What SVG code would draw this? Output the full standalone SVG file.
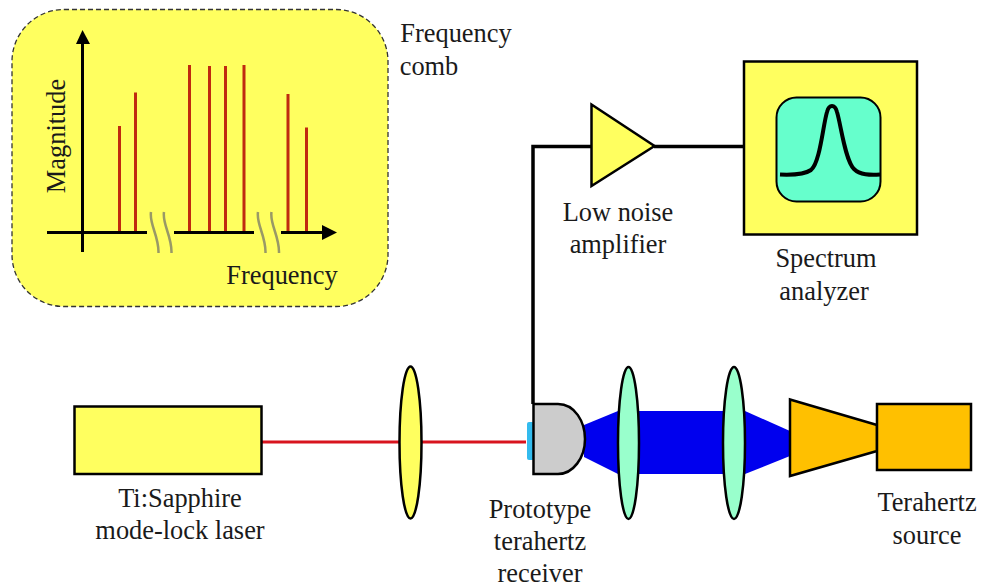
<svg xmlns="http://www.w3.org/2000/svg" width="981" height="588" viewBox="0 0 981 588">
<style>
text{font-family:"Liberation Serif","Times New Roman",serif;font-size:26.400px;fill:#1a1a1a;text-anchor:middle}
.o{stroke:#000;stroke-width:2.500}
.r{stroke:#c02a10;stroke-width:3;fill:none}
.a{stroke:#000;stroke-width:3;fill:none}
.w{stroke:#999966;stroke-width:2.500;fill:none}
</style>
<rect width="981" height="588" fill="#fff"/>
<g id="comb">
<rect x="12" y="9.500" width="376" height="297" rx="52" fill="#ffff5f" stroke="#333" stroke-width="1.300" stroke-dasharray="5 3"/>
<path class="a" d="M82.500 40V252"/>
<path d="M76 44L82.500 30L90 44Z"/>
<path class="a" d="M47 232.500H147M174 232.500H254M281 232.500H325"/>
<path d="M322 225L337 232.500L322 240Z"/>
<path class="r" d="M119.500 126V231M135.500 92.500V231M189.500 65V231M209.500 66V231M225.500 66V231M244 65V231M288 94V231M306.500 127.500V231"/>
<path class="w" d="M151 212C149 224 159 236 158.500 253M164 212C162 224 172 236 171.500 253M258 212C256 224 266 236 265.500 253M271.500 212C269.500 224 279.500 236 279 253"/>
<text x="282" y="284">Frequency</text>
<text transform="translate(65 136) rotate(-90)" x="0" y="0">Magnitude</text>
</g>
<g id="comb-label"><text x="456" y="42">Frequency</text><text x="429" y="75">comb</text></g>
<g id="connectors">
<path d="M533 404V146.500H592M654 146.500H744" stroke="#000" stroke-width="3.500" fill="none"/>
<path d="M262 442H400M420 442H526" stroke="#d8141e" stroke-width="3" fill="none"/>
</g>
<g id="amplifier">
<path class="o" fill="#ffff5f" d="M591.500 104.500L654.500 146L591.500 186Z"/>
<text x="618" y="221">Low noise</text><text x="618" y="253">amplifier</text>
</g>
<g id="analyzer">
<rect class="o" x="744" y="61.500" width="173" height="173" fill="#ffff5f"/>
<rect x="776.500" y="97.500" width="104" height="104" rx="20" fill="#66ffcc" stroke="#000" stroke-width="2"/>
<path d="M780 174.500C792 175 804 175 811 170C820 163 823 125 827 112C829 104 835 104 837 112C841 125 845 160 854 169C860 175 870 175 880 174.500" fill="none" stroke="#000" stroke-width="4"/>
<text x="826" y="267">Spectrum</text><text x="824" y="300">analyzer</text>
</g>
<g id="laser">
<rect class="o" x="74.500" y="406.500" width="187" height="67.500" fill="#ffff5f"/>
<text x="180" y="507">Ti:Sapphire</text><text x="180" y="539">mode-lock laser</text>
</g>
<g id="beam">
<path fill="#0000ee" d="M584 425L618 411H745L790 431V456L745 474H618L584 457Z"/>
</g>
<g id="lens-1"><ellipse class="o" cx="410.500" cy="442.500" rx="11" ry="76" fill="#ffff5f"/></g>
<g id="receiver">
<rect x="527" y="422" width="7" height="38" rx="2" fill="#33bbee"/>
<path class="o" fill="#cccccc" d="M533.500 404H558C575 404 585 422 585 439C585 458 573 474 558 474H533.500Z"/>
<text x="540" y="518">Prototype</text><text x="540" y="550">terahertz</text><text x="540" y="582">receiver</text>
</g>
<g id="lens-2"><ellipse class="o" cx="628.500" cy="443" rx="10.500" ry="76" fill="#99ffcc"/></g>
<g id="lens-3"><ellipse class="o" cx="734" cy="443" rx="11" ry="76" fill="#99ffcc"/></g>
<g id="source">
<path class="o" fill="#ffc000" d="M790 399.500L877 425V451L790 476Z"/>
<rect class="o" x="877" y="404" width="94" height="66" fill="#ffc000"/>
<text x="927" y="511">Terahertz</text><text x="927" y="544">source</text>
</g>
</svg>
